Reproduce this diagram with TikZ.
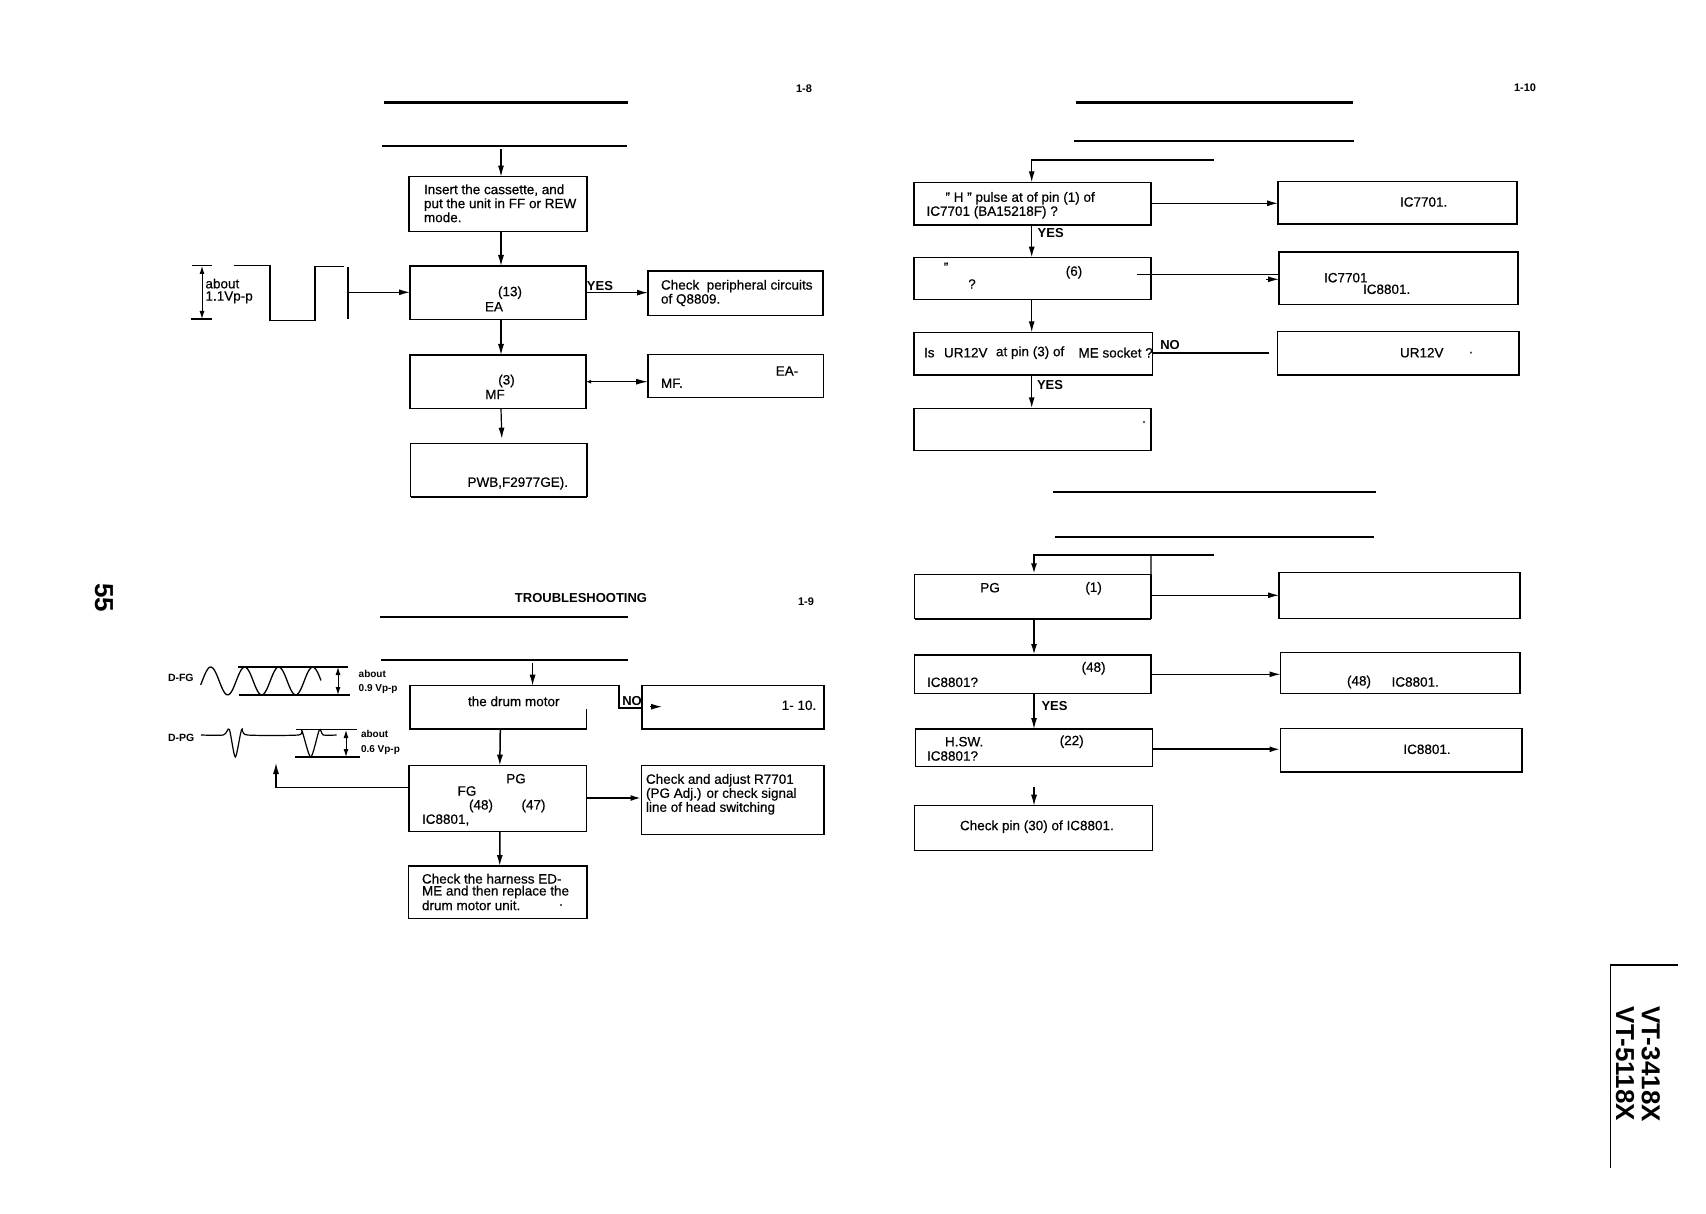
\documentclass[tikz,border=0pt]{standalone}
\usepackage{fontspec}
\setmainfont[FakeBold=0.5]{Liberation Sans}
\newfontfamily\heavyf{Liberation Sans Bold}
\usetikzlibrary{arrows.meta,calc}
\newcommand{\fs}[2][14]{\fontsize{#2}{#1}\selectfont}
\tikzset{
  x=1pt,y=-1pt,
  wire/.style={line width=1.2pt,line cap=butt},
  arr/.style={wire,-{Latex[length=11pt,width=6pt]}},
  darr/.style={line width=1pt,{Latex[length=8pt,width=5pt]}-{Latex[length=8pt,width=5pt]}},
  boxn/.style={draw,line width=1.3pt,inner sep=0,outer sep=0},
  ghost/.style={inner sep=0,outer sep=0},
  rule/.style={line width=2.6pt},
  heavyline/.style={line width=2.6pt},
  lbl/.style={inner sep=0,outer sep=0,anchor=west,align=left,font=\fs{13.5}},
  clbl/.style={inner sep=0,outer sep=0,anchor=center,font=\fs{13.5}},
  small/.style={inner sep=0,outer sep=0,anchor=west,font=\heavyf\fs{10.5}},
  pageno/.style={inner sep=0,outer sep=0,anchor=center,font=\heavyf\fs{11}},
  yesno/.style={inner sep=0,outer sep=0,anchor=center,font=\heavyf\fs{13}},
  model/.style={inner sep=0,outer sep=0,anchor=center,rotate=-90,font=\heavyf\fs{26}},
}
\newcommand{\bx}[6][boxn]{\node[#1,minimum width={(#5-#3)*1pt},minimum height={(#6-#4)*1pt}] (#2) at ({(#3+#5)/2},{(#4+#6)/2}) {};}
\begin{document}
\begin{tikzpicture}
\useasboundingbox (0,0) rectangle (1706,1214);
\fill[white] (0,0) rectangle (1706,1214);

% ---------- margin marks
\node[model] (num55) at (104,598) {55};
\draw[line width=1.6pt] (1610.3,1168) -- (1610.3,964.7) -- (1678,964.7);
\node[model] (vt1) at (1650.7,1064) {VT-3418X};
\node[model] (vt2) at (1625,1064) {VT-5118X};

% ---------- section 1-8
\node[pageno] (p18) at (804,89) {1-8};
\draw[rule] (384,102.3) -- (628,102.3);
\draw[rule] (382,146) -- (627,146);
\coordinate (in18) at (501,149.3);
\bx{b1}{409}{176.7}{587}{231.3}
\bx{b2}{410}{266}{586}{319.3}
\bx{b3}{648}{271}{823}{315.3}
\bx{b4}{410}{355}{586}{408.7}
\bx{b5}{648}{354.3}{823.5}{397.3}
\bx{b6}{410.7}{443.3}{587}{496.7}
\node[lbl] (t1) at (424,203.3) {Insert the cassette, and\\put the unit in FF or REW\\mode.};
\node[clbl] (t2a) at (510,292.7) {(13)};
\node[clbl] (t2b) at (494,306.7) {EA};
\node[lbl] (t3) at (661,293) {Check\ \ peripheral circuits\\of Q8809.};
\node[clbl] (t4a) at (506.5,381) {(3)};
\node[clbl] (t4b) at (495,394.5) {MF};
\node[clbl] (t5a) at (787,371) {EA-};
\node[lbl] (t5b) at (661,383.3) {MF.};
\node[lbl] (t6) at (467.5,483.3) {PWB,F2977GE).};
\node[yesno] (y18) at (600,286) {YES};
\draw[arr] (in18) -- ([xshift=3pt]b1.north);
\draw[arr] ([xshift=3pt]b1.south) -- ([xshift=3pt]b2.north);
\draw[arr] ([xshift=3pt]b2.south) -- ([xshift=3pt]b4.north);
\draw[arr] ([xshift=3pt]b4.south) -- ([xshift=3pt,yshift=4.6pt]b6.north);
\draw[arr] (b2.east) -- (b3.west |- b2.east);
\coordinate (y45) at (600,381.7);
\draw[wire,{Latex[length=5pt,width=4pt]}-{Latex[length=12pt,width=6pt]}] (b4.east |- y45) -- (b5.west |- y45);
\coordinate (sqv) at (348,292.3);
\draw[line width=1.2pt] (234,265.7) -- (270,265.7) -- (270,320.7) -- (315,320.7) -- (315,266.7) -- (343.5,266.7);
\draw[line width=1.2pt] (348,266.7) -- (348,319.3);
\draw[line width=1.2pt] (192,265.7) -- (212,265.7) (191,319) -- (212,319);
\draw[darr] (202,266) -- (202,319);
\node[lbl,font={\fs[12.3]{13.5}}] (t7) at (205.5,291) {about\\1.1Vp-p};
\draw[arr] (sqv) -- (b2.west |- sqv);

% ---------- section 1-9
\node[yesno,font=\heavyf\fs{13}] (trb) at (581,597.7) {TROUBLESHOOTING};
\node[pageno] (p19) at (806,601.7) {1-9};
\draw[line width=2pt] (380,617) -- (628,617);
\draw[line width=2pt] (381,660) -- (628,660);
\coordinate (in19) at (532.6,663.3);
\bx[ghost]{b7}{410}{685.7}{586.6}{729}
\bx{b8}{642}{685.7}{824}{729}
\bx{b9}{409}{765.7}{586.6}{831.3}
\bx{b10}{641.5}{765.7}{824}{834.3}
\bx{b11}{408.5}{866}{587}{918.3}
\coordinate (noa) at (619,685.7);
\coordinate (nob) at (619,708);
\coordinate (noc) at (650,706.7);
\coordinate (nod) at (662,706.7);
\draw[wire] (586.6,709.3) -- (b7.south east) -- (b7.south west) -- (b7.north west) -- (noa) -- (nob) -- (b8.west |- nob);
\draw[wire,line width=2pt] (b7.south west) -- (b7.south east);
\draw[arr] (noc) -- (nod);
\node[yesno] (n19) at (632,700.7) {NO};
\node[lbl] (t8) at (468,701.3) {the drum motor};
\node[clbl] (t8b) at (799,705.3) {1- 10.};
\node[clbl] (t9a) at (516,778.7) {PG};
\node[clbl] (t9b) at (467,791) {FG};
\node[clbl] (t9c) at (481,806) {(48)};
\node[clbl] (t9d) at (533.5,806) {(47)};
\node[lbl] (t9e) at (422,820) {IC8801,};
\node[lbl] (t10) at (646,794.3) {Check and adjust R7701\\(PG Adj.) or check signal\\line of head switching};
\node[lbl] (t11a) at (422,878.7) {Check the harness ED-};
\node[lbl] (t11c) at (422,892) {ME and then replace the};
\node[lbl] (t11d) at (422,905.3) {drum motor unit.};
\node[clbl] (t11b) at (561,905) {.};
\draw[arr] (in19) -- (in19 |- b7.north);
\draw[arr,line width=1.5pt] ([xshift=2pt]b7.south) -- ([xshift=2pt]b9.north);
\draw[arr,line width=1.5pt] ([xshift=2pt]b9.south) -- ([xshift=2pt]b11.north);
\coordinate (up19) at (276,763);
\draw[arr] (b9.west |- {0,787.3}) -| (up19);
\draw[arr,line width=2pt] (b9.east |- {0,798}) -- (b10.west |- {0,798});
% waveforms
\node[small] (dfg) at (168,678) {D-FG};
\node[small] (dpg) at (168,738) {D-PG};
\draw[line width=1.3pt,smooth,samples=70,domain=200.7:321] plot ({\x},{681-14*cos((\x-210.7)/34*360)});
\draw[line width=1.2pt] (238,667) -- (348,667) (239,695) -- (350,695);
\draw[darr] (338,667) -- (338,695);
\node[small,font=\heavyf\fs{10}] (ab1) at (358.7,674) {about};
\node[small,font=\heavyf\fs{10}] (vp1) at (358.7,689) {0.9 Vp-p};
\draw[line width=1.2pt] plot[smooth,tension=0.45] coordinates {(201,735)(223.3,735)(229.3,729.5)(235.3,757)(241.7,729.5)(247.3,735)(298.3,735)(301.7,730)(310.7,757)(319.3,730)(323.3,735)(336.7,735)};
\draw[line width=1.2pt] (296,729.7) -- (357,729.7) (295,757) -- (360,757);
\draw[darr] (346,730) -- (346,757);
\node[small,font=\heavyf\fs{10}] (ab2) at (361,734) {about};
\node[small,font=\heavyf\fs{10}] (vp2) at (361,750) {0.6 Vp-p};

% ---------- section 1-10
\node[pageno] (p110) at (1525,87.3) {1-10};
\draw[rule] (1076,102.3) -- (1353,102.3);
\draw[rule] (1074,141) -- (1354,141);
\coordinate (in110) at (1213.5,160);
\bx{b12}{914}{182.3}{1151}{225}
\bx{b13}{1278}{181.7}{1517}{224}
\bx{b14}{914}{257.7}{1151}{299.3}
\bx{b15}{1279}{252}{1518}{304.3}
\bx{b16}{914}{332.3}{1152.5}{375}
\bx{b17}{1277.5}{331.7}{1519}{375}
\bx{b18}{914}{408.3}{1151}{450.7}
\node[lbl] (t12) at (945.5,198.3) {" H " pulse at of pin (1) of};
\node[lbl] (t12b) at (926.5,212.3) {IC7701 (BA15218F) ?};
\node[lbl] (t13) at (1400,202) {IC7701.};
\node[clbl] (t14a) at (946,267.3) {"};
\node[clbl] (t14b) at (1074,272.3) {(6)};
\node[clbl] (t14c) at (972,284) {?};
\node[lbl] (t15a) at (1324,277.7) {IC7701};
\node[lbl] (t15b) at (1363,289.3) {IC8801.};
\node[lbl] (t16a) at (924,352.7) {Is};
\node[lbl] (t16b) at (944,352.7) {UR12V};
\node[lbl] (t16c) at (996,352.7) {at pin (3) of};
\node[lbl] (t16d) at (1078.5,352.7) {ME socket ?};
\node[lbl] (t17) at (1400,352.7) {UR12V};
\node[clbl] (t17b) at (1471,352.7) {.};
\node[clbl] (t18) at (1144,422) {.};
\node[yesno] (y12) at (1050.7,233.3) {YES};
\node[yesno] (y16) at (1050,385) {YES};
\node[yesno] (n16) at (1170,345.3) {NO};
\draw[arr] (in110) -| (b12.north -| 1031.7,0);
\draw[arr,line width=1.5pt] (b12.south -| 1031.7,0) -- (b14.north -| 1031.7,0);
\draw[arr] (b14.south -| 1031.7,0) -- (b16.north -| 1031.7,0);
\draw[arr,line width=1.5pt] (b16.south -| 1031.7,0) -- (b18.north -| 1031.7,0);
\draw[arr] (b12.east |- {0,203.3}) -- (b13.west |- {0,203.3});
\coordinate (c14) at (1136.5,274.3);
\draw[wire] (c14) -- (b15.west |- c14);
\coordinate (h14a) at (1266,279.3);
\draw[arr] (h14a) -- (b15.west |- h14a);
\coordinate (c17) at (1269,352.7);
\draw[line width=2pt] (b16.east |- c17) -- (c17);

% ---------- lower section of 1-10
\draw[line width=2.2pt] (1053,492) -- (1376,492);
\draw[line width=2.2pt] (1054.5,536.7) -- (1374,536.7);
\coordinate (in111) at (1214,555);
\bx{b19}{914.7}{574.3}{1151}{618.7}
\bx{b20}{1279}{572.7}{1520}{618.3}
\bx{b21}{914.7}{655}{1151}{693.3}
\bx{b22}{1280.5}{652.7}{1520}{693.3}
\bx{b23}{915.6}{729}{1152.5}{766.7}
\bx{b24}{1280.5}{728.3}{1522}{772}
\bx{b25}{914.7}{805.7}{1152.5}{850.7}
\coordinate (ent) at (1151,555);
\draw[wire] (ent) -- (b19.north east);
\node[clbl] (t19a) at (990,587.7) {PG};
\node[clbl] (t19b) at (1093.6,588.3) {(1)};
\node[clbl] (t21a) at (1093.6,668.3) {(48)};
\node[lbl] (t21b) at (927,682.3) {IC8801?};
\node[clbl] (t22a) at (1359,682) {(48)};
\node[lbl] (t22b) at (1391.6,682) {IC8801.};
\node[lbl] (t23a) at (945,741.7) {H.SW.};
\node[clbl] (t23b) at (1071.7,741.7) {(22)};
\node[lbl] (t23c) at (927,756) {IC8801?};
\node[lbl] (t24) at (1403.4,749.3) {IC8801.};
\node[lbl] (t25) at (960,826.7) {Check pin (30) of IC8801.};
\node[yesno] (y21) at (1054.5,705.7) {YES};
\coordinate (down23) at (1034,786.7);
\draw[arr,line width=2pt] (in111) -| (b19.north -| 1034,0);
\draw[arr,line width=1.8pt] (b19.south -| 1034,0) -- (b21.north -| 1034,0);
\draw[arr] (b21.south -| 1034,0) -- (b23.north -| 1034,0);
\draw[arr] (down23) -- (b25.north -| down23);
\draw[arr] (b19.east |- {0,595.3}) -- (b20.west |- {0,595.3});
\draw[arr] (b21.east |- {0,674.3}) -- (b22.west |- {0,674.3});
\draw[arr,line width=2pt] (b23.east |- {0,749.3}) -- (b24.west |- {0,749.3});
% heavier edges of the print
\draw[line width=2.2pt] (b12.south west) -- (b12.south east);
\draw[line width=2.2pt] (b13.south west) -- (b13.south east);
\draw[line width=2.2pt] (b19.south west) -- (b19.south east);
\draw[line width=2.2pt] (b21.north west) -- (b21.north east);
\draw[line width=2.2pt] (b24.south west) -- (b24.south east);
\draw[line width=2.2pt] (b4.north west) -- (b4.north east);
\draw[line width=2.2pt] (b6.south west) -- (b6.south east);
\end{tikzpicture}
\end{document}
